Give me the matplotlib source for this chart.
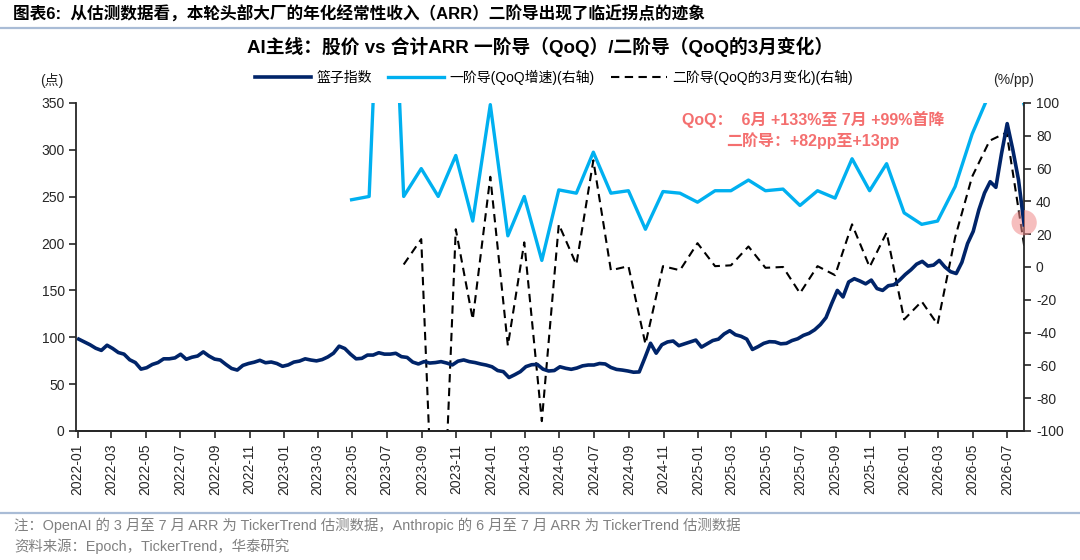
import matplotlib
matplotlib.use('Agg')
import matplotlib.pyplot as plt
import matplotlib.dates as mdates
import pandas as pd

plt.rcParams['font.family'] = ['Liberation Sans', 'Noto Sans CJK SC', 'DejaVu Sans']
plt.rcParams['axes.unicode_minus'] = False

# basket index, sampled every 10 days from 2022-01-03 to 2026-07-31
index_start = '2022-01-03'
index_values = [
    98, 95, 92, 88.3, 86, 91.5, 88, 83.7, 82, 76, 73, 66, 67.5, 71, 73, 77, 77, 78,
    81.9, 76.5, 78.7, 80, 84.4, 80, 76.7, 75.7, 71, 66.7, 65, 70, 72, 73.4, 75.4, 72.8,
    73.6, 72, 69, 70.5, 73.5, 74.6, 77, 75.7, 74.8, 76.2, 79, 83, 90.5, 88, 82, 77, 77.5, 81,
    81, 83.5, 82, 82, 82.9, 79.3, 78.5, 73.5, 71.5, 74, 72.5, 73, 74, 72.5, 70.5, 74.5,
    75.8, 74, 73, 71.5, 70.3, 68.5, 64.5, 63.3, 57, 60, 63.3, 68.7, 70.7, 71, 66, 64,
    64.5, 68.5, 66.9, 65.8, 67.2, 69.5, 70.4, 70.4, 72, 71.5, 67.8, 65.7, 65, 64, 62.7, 63,
    78, 93.6, 83,
    92, 95, 96, 91, 93, 95, 97, 89.5, 93, 96.5, 98, 103.5, 107, 102.7, 101, 98, 87, 90,
    93.5, 95.3, 95, 93, 93.5, 96.5, 98.4, 102, 104.2, 108, 113.5, 121, 136, 150, 143, 159, 162.5,
    160, 157, 161, 152, 150, 155, 156, 161, 167, 172, 178, 181, 176, 177, 182, 175, 170, 168,
    180, 200, 213, 236, 254, 266, 260, 296, 328, 300, 268, 220,
]

# QoQ growth of combined ARR, month end 2023-04 .. 2026-07 (%)
qoq_start = '2023-04-30'
qoq_values = [
    41, 43, 290, 43, 60, 43, 68, 28, 99, 19, 43, 4,
    47, 45, 70, 45, 46.5, 23, 46, 45, 39.5, 46.5, 46.5, 53,
    46.5, 47.5, 37.5, 46.5, 42, 66, 46.5, 63, 33, 26, 28, 49,
    81, 106, 133, 99,
]

# 3-month change of QoQ, month end 2023-07 .. 2026-07 (pp)
second_start = '2023-07-31'
second_values = [
    1.5, 17, -240, 23, -32, 55, -48, 15, -94,
    26, 1.5, 65, -2, 0.5, -47, 0.5, -2, 14.5, 0.5, 1, 12.5,
    -0.5, 0, -16, 0.5, -5, 26, 0, 21, -32, -21, -35, 18,
    55, 77, 82, 13,
]

title_top = '图表6:  从估测数据看，本轮头部大厂的年化经常性收入（ARR）二阶导出现了临近拐点的迹象'
chart_title = 'AI主线：股价 vs 合计ARR 一阶导（QoQ）/二阶导（QoQ的3月变化）'
legend_labels = ['篮子指数', '一阶导(QoQ增速)(右轴)', '二阶导(QoQ的3月变化)(右轴)']
note_text = '注：OpenAI 的 3 月至 7 月 ARR 为 TickerTrend 估测数据，Anthropic 的 6 月至 7 月 ARR 为 TickerTrend 估测数据'
source_text = '资料来源：Epoch，TickerTrend，华泰研究'
callout_1 = 'QoQ：  6月 +133%至 7月 +99%首降'
callout_2 = '二阶导：+82pp至+13pp'

NAVY = '#002469'
SKY = '#00B0F0'
SALMON = '#F46F6F'
RULE = '#A9BCD6'


def plot_chart():
    index_dates = pd.date_range(index_start, periods=len(index_values), freq='10D')
    qoq_dates = pd.date_range(qoq_start, periods=len(qoq_values), freq='ME')
    second_dates = pd.date_range(second_start, periods=len(second_values), freq='ME')

    fig = plt.figure(figsize=(10.8, 5.6), dpi=100)
    ax = fig.add_axes([0.0708, 0.2304, 0.8775, 0.5857])
    ax2 = ax.twinx()

    l1, = ax.plot(index_dates, index_values, color=NAVY, lw=2.6, solid_joinstyle='round')
    l2, = ax2.plot(qoq_dates, qoq_values, color=SKY, lw=2.4)
    l3, = ax2.plot(second_dates, second_values, color='black', lw=1.5, dashes=(4, 2.6))
    ax.set_zorder(ax2.get_zorder() + 1)
    ax.patch.set_visible(False)

    ax.set_ylim(0, 350)
    ax.set_yticks(range(0, 351, 50))
    ax2.set_ylim(-100, 100)
    ax2.set_yticks(range(-100, 101, 20))
    ax.set_xlim(pd.Timestamp('2021-12-30'), pd.Timestamp('2026-07-31'))

    ax.xaxis.set_major_locator(mdates.MonthLocator(bymonth=[1, 3, 5, 7, 9, 11]))
    ax.xaxis.set_major_formatter(mdates.DateFormatter('%Y-%m'))
    for lab in ax.get_xticklabels():
        lab.set_rotation(90)

    for a in (ax, ax2):
        a.spines['top'].set_visible(False)
        for s in ('left', 'right', 'bottom'):
            a.spines[s].set_color('#262626')
            a.spines[s].set_linewidth(1.3)
        a.tick_params(direction='out', length=5, width=1.2, colors='#262626',
                      labelsize=10, labelcolor='#262626')
    ax.spines['right'].set_visible(False)
    ax2.spines['left'].set_visible(False)
    ax.tick_params(axis='x', pad=4)

    # pink marker where the July values sit
    ax2.scatter([pd.Timestamp('2026-07-31')], [27], s=330, color='#F08A8A',
                alpha=0.55, edgecolors='none', clip_on=False, zorder=5)

    fig.text(0.753, 1 - 119 / 560, callout_1, ha='center', va='center',
             fontsize=11.5, fontweight='bold', color=SALMON)
    fig.text(0.753, 1 - 141 / 560, callout_2, ha='center', va='center',
             fontsize=11.5, fontweight='bold', color=SALMON)

    fig.legend([l1, l2, l3], legend_labels, loc='center', bbox_to_anchor=(0.513, 0.8625),
               ncol=3, frameon=False, fontsize=10, handlelength=4.0, handletextpad=0.4,
               columnspacing=1.2)

    fig.text(0.012, 0.975, title_top, ha='left', va='center', fontsize=12,
             fontweight='bold', color='black')
    fig.text(0.5, 0.916, chart_title, ha='center', va='center', fontsize=13.5,
             fontweight='bold', color='black')
    fig.text(0.037, 0.857, '(点)', ha='left', va='center', fontsize=10, color='#262626')
    fig.text(0.92, 0.857, '(%/pp)', ha='left', va='center', fontsize=10, color='#262626')

    fig.add_artist(plt.Line2D([0, 1], [1 - 28 / 560] * 2, color=RULE, lw=1.6))
    fig.add_artist(plt.Line2D([0, 1], [1 - 513 / 560] * 2, color=RULE, lw=1.6))

    fig.text(0.013, 1 - 525 / 560, note_text, ha='left', va='center', fontsize=10.4,
             color='#808080')
    fig.text(0.013, 1 - 546 / 560, source_text, ha='left', va='center', fontsize=10.4,
             color='#808080')

    fig.savefig('out.png', dpi=100)


if __name__ == "__main__":
    plot_chart()
